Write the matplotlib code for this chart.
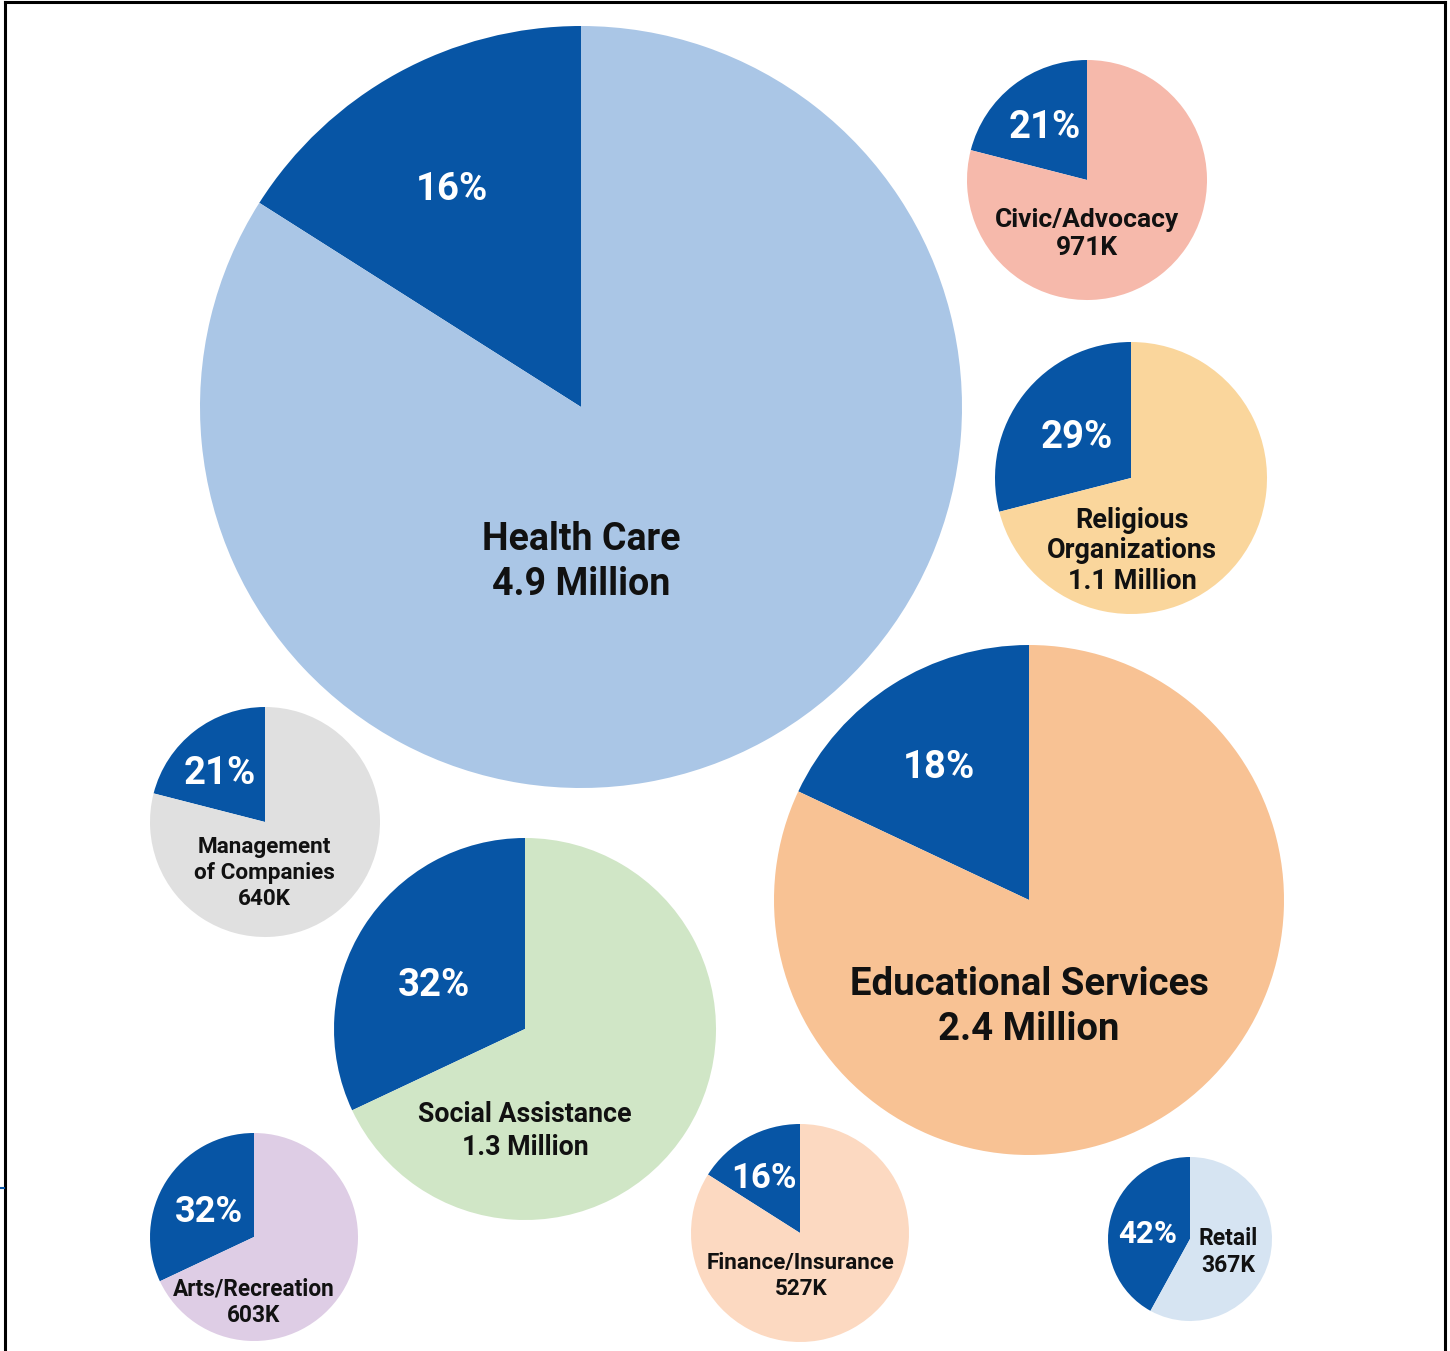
import matplotlib.pyplot as plt
from matplotlib.lines import Line2D

plt.rcParams['font.family'] = ['Roboto', 'DejaVu Sans']

W, H = 1450, 1351

# data
sectors = ["Health Care", "Civic/Advocacy", "Religious\nOrganizations",
           "Educational Services", "Management\nof Companies", "Social Assistance",
           "Arts/Recreation", "Finance/Insurance", "Retail"]
totals = ["4.9 Million", "971K", "1.1 Million", "2.4 Million", "640K",
          "1.3 Million", "603K", "527K", "367K"]
shares = [16, 21, 29, 18, 21, 32, 32, 16, 42]
fills = ["#AAC6E6", "#F6B9AB", "#FAD69C", "#F8C294", "#E0E0E0",
         "#D0E6C6", "#DECDE5", "#FCD9C1", "#D6E4F2"]
highlight = "#0755A5"

# layout (pixel coords, y from top)
centers = [(581, 407), (1087, 180), (1131, 478), (1029, 900), (265, 822),
           (525, 1029), (254, 1237), (800, 1233), (1190, 1239)]
radii = [381, 120, 136, 255, 115, 191, 104, 109, 82]
pct_pos = [(452, 189), (1045, 127), (1077, 437), (939, 768), (220, 774),
           (434, 985), (209, 1212), (764, 1178), (1148, 1234)]
pct_size = [27.5, 27.5, 27.5, 27.5, 27.5, 27.5, 26, 25, 22.5]
lab_pos = [(581, 562), (1087, 234), (1132, 551), (1029, 1007), (264, 873),
           (525, 1131), (254, 1302), (801, 1276), (1228, 1252)]
lab_size = [27, 19, 19.5, 27.5, 16.2, 19.3, 16.3, 16.2, 16.5]
lab_spacing = [1.29, 1.24, 1.17, 1.27, 1.24, 1.25, 1.21, 1.21, 1.24]

fig = plt.figure(figsize=(W / 100, H / 100), dpi=100)
ax = fig.add_axes([0, 0, 1, 1])

for i in range(len(sectors)):
    cx, cy = centers[i]
    ax.pie([shares[i], 100 - shares[i]], colors=[highlight, fills[i]],
           center=(cx, H - cy), radius=radii[i], startangle=90,
           counterclock=True, wedgeprops=dict(linewidth=0))
    px, py = pct_pos[i]
    ax.text(px, H - py, f"{shares[i]}%", color="white", fontsize=pct_size[i],
            fontweight="semibold", ha="center", va="center")
    lx, ly = lab_pos[i]
    ax.text(lx, H - ly, sectors[i] + "\n" + totals[i], color="#111111",
            fontsize=lab_size[i], fontweight="bold", ha="center", va="center",
            linespacing=lab_spacing[i])

ax.set_xlim(0, W)
ax.set_ylim(0, H)
ax.set_aspect("auto")
ax.axis("off")

# outer frame (open at bottom)
fig.add_artist(Line2D([5 / W, 5 / W], [0, 1 - 1.5 / H], transform=fig.transFigure,
                      color="black", linewidth=2.2))
fig.add_artist(Line2D([5 / W, 1445 / W], [1 - 1.5 / H, 1 - 1.5 / H],
                      transform=fig.transFigure, color="black", linewidth=2.2))
fig.add_artist(Line2D([1445 / W, 1445 / W], [0, 1 - 1.5 / H], transform=fig.transFigure,
                      color="black", linewidth=2.2))
fig.add_artist(Line2D([0, 4 / W], [1 - 1188 / H, 1 - 1188 / H], transform=fig.transFigure,
                      color=highlight, linewidth=1.5))

fig.savefig("out.png", dpi=100, facecolor="white")
